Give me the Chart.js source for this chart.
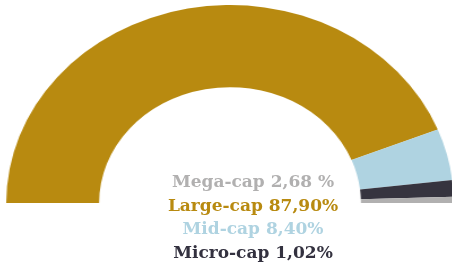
<!DOCTYPE html>
<html>
<head>
<meta charset="utf-8">
<script src="https://cdn.jsdelivr.net/npm/chart.js@4"></script>
<style>
  html, body { margin: 0; padding: 0; background: #fff; }
  body { width: 452px; height: 269px; position: relative; overflow: hidden; }
  #wrap { position: absolute; left: 31.5px; top: 5px; width: 396px; height: 198px; transform: scaleX(1.13); transform-origin: 198px 0; }
  #labels { position: absolute; left: 0; top: 170px; width: 506px; text-align: center; font-family: "DejaVu Serif", serif; font-weight: bold; font-size: 17px; line-height: 23.5px; }
</style>
</head>
<body>
<div id="wrap"><canvas id="myChart"></canvas></div>
<div id="labels"></div>
<script>
// segment order as drawn, left to right over the top
const categorias = ['Large-cap', 'Mid-cap', 'Mega-cap', 'Micro-cap'];
const valores = [87.90, 8.40, 2.68, 1.02];
const colores = ['#B88A10', '#AFD3E1', '#36343F', '#B1B0B0'];

// text block below the arc, in the order it is printed
const textos = ['Mega-cap 2,68 %', 'Large-cap 87,90%', 'Mid-cap 8,40%', 'Micro-cap 1,02%'];
const coloresTexto = ['#B1B0B0', '#B88A10', '#AFD3E1', '#33313F'];

const ctx = document.querySelector('#myChart');
const labels = document.querySelector('#labels');

labels.innerHTML = textos.map((t, i) => `<div style="color:${coloresTexto[i]}">${t}</div>`).join('');

new Chart(ctx, {
    type: 'doughnut',
    data: {
        labels: categorias,
        datasets: [{
            data: valores,
            backgroundColor: colores,
            borderWidth: 0,
            hoverOffset: 0
        }]
    },
    options: {
        responsive: true,
        maintainAspectRatio: false,
        animation: false,
        rotation: -90,
        circumference: 180,
        cutout: '58.5%',
        layout: { padding: 0 },
        plugins: {
            legend: { display: false },
            tooltip: { enabled: false }
        }
    }
});
</script>
</body>
</html>
